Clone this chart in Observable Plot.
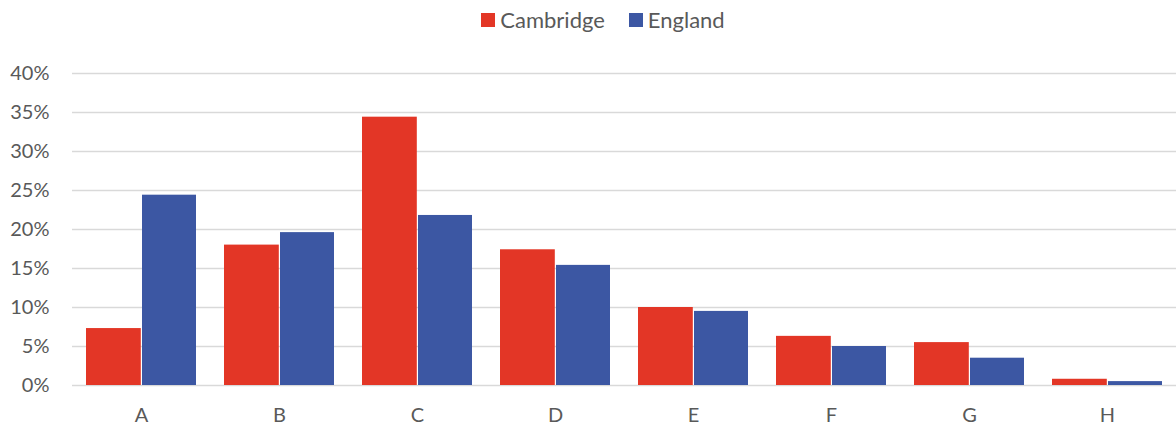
<!DOCTYPE html>
<html>
<head>
<meta charset="utf-8">
<script src="https://cdn.jsdelivr.net/npm/d3@7"></script>
<script src="https://cdn.jsdelivr.net/npm/@observablehq/plot@0.6"></script>
<style>
  html, body { margin: 0; padding: 0; background: #fff; }
  body { width: 1176px; height: 428px; overflow: hidden; font-family: Lato, "Open Sans", sans-serif; }
  #legend { height: 42px; display: flex; justify-content: center; align-items: flex-start; padding-top: 7px; padding-left: 30px; box-sizing: border-box; gap: 24px; color: #595959; font-size: 22px; }
  .item { display: flex; align-items: center; gap: 5px; line-height: 26px; }
  .sw { width: 14px; height: 14px; display: inline-block; }
</style>
</head>
<body>
<div id="legend"></div>
<div id="chart"></div>
<script>
const categories = ["A", "B", "C", "D", "E", "F", "G", "H"];
const cambridge = [7.3, 18.0, 34.4, 17.4, 10.0, 6.3, 5.5, 0.8];
const england = [24.4, 19.6, 21.8, 15.4, 9.5, 5.0, 3.5, 0.5];
const seriesNames = ["Cambridge", "England"];
const seriesColors = ["#E33626", "#3C57A3"];
const yTicks = [0, 5, 10, 15, 20, 25, 30, 35, 40];

const W = 1176, H = 386, mL = 72, mR = 0, mT = 31, mB = 43;
const pInner = 0.2, pOuter = 0.1;
const step = (W - mL - mR) / (categories.length - pInner + 2 * pOuter);
const bw = step * (1 - pInner);
const half = bw / 2;

const camb = categories.map((c, i) => ({cat: c, v: cambridge[i] / 100}));
const eng = categories.map((c, i) => ({cat: c, v: england[i] / 100}));

const legend = document.getElementById("legend");
seriesNames.forEach((n, i) => {
  const d = document.createElement("span");
  d.className = "item";
  d.innerHTML = `<span class="sw" style="background:${seriesColors[i]}"></span><span>${n}</span>`;
  legend.appendChild(d);
});

const chart = Plot.plot({
  width: W, height: H,
  marginLeft: mL, marginRight: mR, marginTop: mT, marginBottom: mB,
  style: {fontFamily: "Lato, 'Open Sans', sans-serif", fontSize: "20px", color: "#595959", background: "#fff"},
  x: {domain: categories, paddingInner: pInner, paddingOuter: pOuter, label: null, tickSize: 0, tickPadding: 22},
  y: {domain: [0, 0.4], ticks: yTicks.map(t => t / 100), tickFormat: d3.format(".0%"), label: null, tickSize: 0, tickPadding: 23},
  marks: [
    Plot.ruleY(yTicks.map(t => t / 100), {stroke: "#d9d9d9", strokeWidth: 1.3}),
    Plot.barY(camb, {x: "cat", y: "v", fill: seriesColors[0], insetRight: half, insetLeft: 0}),
    Plot.barY(eng, {x: "cat", y: "v", fill: seriesColors[1], insetLeft: half + 0.8, insetRight: 0})
  ]
});
document.getElementById("chart").appendChild(chart);
</script>
</body>
</html>
